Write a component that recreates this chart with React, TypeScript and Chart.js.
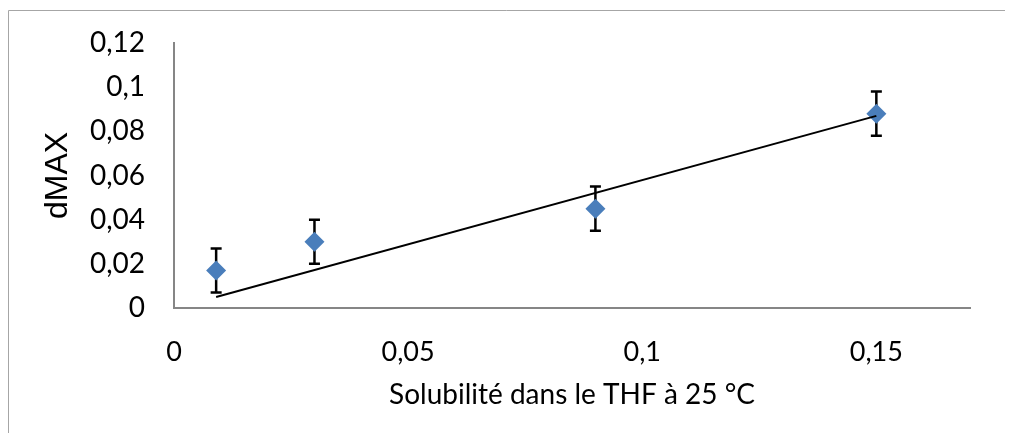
import React, { useEffect, useRef } from "react";
import { Chart, registerables } from "chart.js";

Chart.register(...registerables);

const solubility = [0.009, 0.03, 0.09, 0.15];
const dMax = [0.017, 0.03, 0.045, 0.088];
const dMaxError = [0.01, 0.01, 0.01, 0.01];
const trendX = [0.009, 0.15];
const trendY = [0.005, 0.087];
const xTicks = [0, 0.05, 0.1, 0.15];
const yTicks = [0, 0.02, 0.04, 0.06, 0.08, 0.1, 0.12];
const xTitle = "Solubilité dans le THF à 25 °C";
const yTitle = "dMAX";

const fmt = (v: number) => String(v).replace(".", ",");

const errorBars = {
  id: "errorBars",
  beforeDatasetsDraw(chart: any) {
    const { ctx, scales } = chart;
    const x = scales.x;
    const y = scales.y;
    ctx.save();
    ctx.strokeStyle = "#000000";
    ctx.lineWidth = 2.5;
    solubility.forEach((sx, i) => {
      const px = x.getPixelForValue(sx);
      const top = y.getPixelForValue(dMax[i] + dMaxError[i]);
      const bot = y.getPixelForValue(dMax[i] - dMaxError[i]);
      ctx.beginPath();
      ctx.moveTo(px, top);
      ctx.lineTo(px, bot);
      ctx.moveTo(px - 5.5, top);
      ctx.lineTo(px + 5.5, top);
      ctx.moveTo(px - 5.5, bot);
      ctx.lineTo(px + 5.5, bot);
      ctx.stroke();
    });
    ctx.restore();
  },
};

const frame = {
  id: "frame",
  beforeDraw(chart: any) {
    const { ctx, width, height } = chart;
    ctx.save();
    ctx.strokeStyle = "#a6a6a6";
    ctx.lineWidth = 1;
    ctx.beginPath();
    ctx.moveTo(0.5, height);
    ctx.lineTo(0.5, 2.5);
    ctx.lineTo(width, 2.5);
    ctx.stroke();
    ctx.restore();
  },
};

export default function App() {
  const ref = useRef<HTMLCanvasElement>(null);
  useEffect(() => {
    if (!ref.current) return;
    const chart = new Chart(ref.current, {
      type: "scatter",
      data: {
        datasets: [
          {
            label: "Tendance",
            type: "line",
            data: trendX.map((x, i) => ({ x, y: trendY[i] })),
            borderColor: "#000000",
            borderWidth: 2,
            pointRadius: 0,
            showLine: true,
            fill: false,
            order: 0,
          } as any,
          {
            label: "dMAX",
            data: solubility.map((x, i) => ({ x, y: dMax[i] })),
            pointStyle: "rectRot",
            pointRadius: 10,
            backgroundColor: "#4A7EBB",
            borderWidth: 0,
            showLine: false,
            order: 1,
          },
        ],
      },
      options: {
        animation: false,
        responsive: false,
        maintainAspectRatio: false,
        devicePixelRatio: 1,
        layout: { padding: { top: 35, right: 35, left: 0, bottom: 0 } },
        plugins: { legend: { display: false }, tooltip: { enabled: false } },
        scales: {
          x: {
            type: "linear",
            min: 0,
            max: 0.17,
            afterBuildTicks: (s: any) => {
              s.ticks = xTicks.map((v) => ({ value: v }));
            },
            afterFit: (s: any) => {
              s.height = 125;
              s.paddingLeft = 0;
              s.paddingRight = 0;
            },
            grid: { display: false, drawTicks: false },
            border: { display: true, color: "#868686", width: 2 },
            ticks: {
              color: "#000000",
              padding: 28,
              maxRotation: 0,
              font: { family: "Lato", size: 27 },
              callback: (v: any) => fmt(Number(v)),
            },
            title: {
              display: true,
              text: xTitle,
              color: "#000000",
              font: { family: "Lato", size: 28 },
              padding: { top: 0, bottom: 21 },
            },
          },
          y: {
            type: "linear",
            min: 0,
            max: 0.12,
            afterBuildTicks: (s: any) => {
              s.ticks = yTicks.map((v) => ({ value: v }));
            },
            afterFit: (s: any) => {
              s.width = 166;
              s.paddingTop = 0;
              s.paddingBottom = 0;
            },
            grid: { display: false, drawTicks: false },
            border: { display: true, color: "#868686", width: 2 },
            ticks: {
              color: "#000000",
              padding: 29,
              font: { family: "Lato", size: 28 },
              callback: (v: any) => fmt(Number(v)),
            },
            title: {
              display: true,
              text: yTitle,
              color: "#000000",
              font: { family: "Liberation Sans", size: 32 },
              padding: { top: 31, bottom: 0 },
            },
          },
        },
      },
      plugins: [frame, errorBars],
    });
    return () => chart.destroy();
  }, []);
  return <canvas ref={ref} width={997} height={425} style={{ display: "block" }} />;
}
